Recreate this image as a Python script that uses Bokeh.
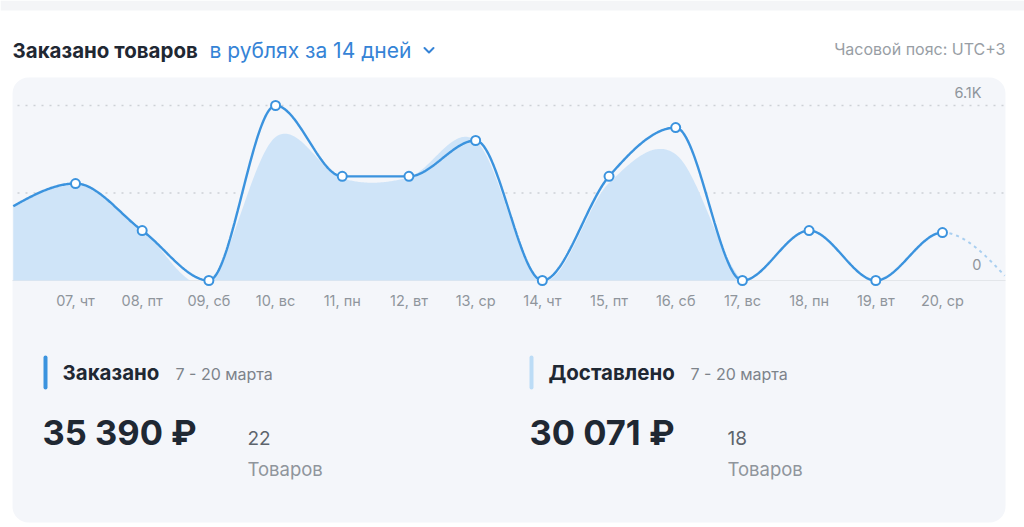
import numpy as np
from bokeh.plotting import figure
from bokeh.models import Range1d, BoxAnnotation
from bokeh.core.properties import value
from bokeh.embed import file_html
from bokeh.resources import INLINE

# ---------------- data ----------------
day_labels = ["07, чт", "08, пт", "09, сб", "10, вс", "11, пн", "12, вт", "13, ср",
              "14, чт", "15, пт", "16, сб", "17, вс", "18, пн", "19, вт", "20, ср"]
ordered = [3380, 1740, 0, 6100, 3630, 3630, 4880, 0, 3630, 5330, 0, 1740, 0, 1670]
delivered = [3380, 1740, 0, 5000, 3560, 3600, 4880, 0, 3400, 4400, 0, 0, 0, 0]
ordered_before = 2500     # 06 March, partly visible at the left edge
delivered_before = 2500
ordered_after = 0         # 21 March, dashed continuation
delivered_after = 0
grid_values = [3050, 6100]
tick_values = [6100, 0]
tick_labels = ["6.1K", "0"]

summary_titles = ["Заказано", "Доставлено"]
summary_period = ["7 - 20 марта", "7 - 20 марта"]
summary_sums = ["35 390 ₽", "30 071 ₽"]
summary_counts = ["22", "18"]

# ---------------- layout constants ----------------
W, H = 1024, 527
X0, DX = 75.0, 66.69          # pixel of first day, pixel per day
Y0, PPV = 280.0, 175.0 / 6100  # pixel of zero, pixel per unit
LEFT, RIGHT = 12, 1005

BLUE = "#3b93de"
AREA = "#cfe4f8"
DARK = "#1f2833"
GRAY = "#8f959c"
FONT = value("Inter")


def monotone_tangents(y):
    y = np.asarray(y, float)
    n = len(y)
    m = np.zeros(n)
    for i in range(1, n - 1):
        s0 = y[i] - y[i - 1]
        s1 = y[i + 1] - y[i]
        p = (s0 + s1) / 2
        m[i] = (np.sign(s0) + np.sign(s1)) * min(abs(s0), abs(s1), 0.5 * abs(p))
    m[0] = (3 * (y[1] - y[0]) - m[1]) / 2
    m[-1] = (3 * (y[-1] - y[-2]) - m[-2]) / 2
    return m


def cardinal_tangents(y):
    y = np.asarray(y, float)
    m = np.zeros(len(y))
    m[1:-1] = (y[2:] - y[:-2]) / 2
    m[0] = y[1] - y[0]
    m[-1] = y[-1] - y[-2]
    return m


def hermite(xk, yk, mk, n=60):
    xs, ys = [], []
    for i in range(len(xk) - 1):
        t = np.linspace(0, 1, n, endpoint=False)
        h00 = 2 * t**3 - 3 * t**2 + 1
        h10 = t**3 - 2 * t**2 + t
        h01 = -2 * t**3 + 3 * t**2
        h11 = t**3 - t**2
        xs.append(xk[i] + t * (xk[i + 1] - xk[i]))
        ys.append(h00 * yk[i] + h10 * mk[i] + h01 * yk[i + 1] + h11 * mk[i + 1])
    xs.append([xk[-1]])
    ys.append([yk[-1]])
    return np.concatenate(xs), np.concatenate(ys)


idx = list(range(len(day_labels)))
xk = [-1] + idx + [len(idx)]
yo = [ordered_before] + ordered + [ordered_after]
yd = [delivered_before] + delivered + [delivered_after]

lx, ly = hermite(xk, yo, monotone_tangents(yo))
ax, ay = hermite(xk, yd, cardinal_tangents(yd))

xmin_day = (LEFT - X0) / DX
xmax_day = (RIGHT - X0) / DX
last = idx[-1]

# ---------------- figure ----------------
p = figure(width=W, height=H, x_range=Range1d(0, W), y_range=Range1d(H, 0),
           output_backend="svg", toolbar_location=None, min_border=0,
           x_axis_location=None, y_axis_location=None, outline_line_color=None,
           background_fill_color="white", border_fill_color="white")
for g in p.grid:
    g.visible = False
p.extra_x_ranges = {"days": Range1d((0 - X0) / DX, (W - X0) / DX)}
p.extra_y_ranges = {"val": Range1d(-(H - Y0) / PPV, Y0 / PPV)}

# background pieces
p.add_layout(BoxAnnotation(left=0, right=W, top=0, bottom=10, fill_color="#f4f5f7",
                           fill_alpha=1, line_color=None, level="underlay"))
p.add_layout(BoxAnnotation(left=LEFT, right=RIGHT, top=77, bottom=522, fill_color="#f4f6fa",
                           fill_alpha=1, line_color=None, border_radius=16, level="underlay"))

# grid lines
p.segment(x0=17, x1=1003, y0=grid_values, y1=grid_values, y_range_name="val",
          line_color="#cdd1d6", line_width=1.6, line_dash="2 6")
p.segment(x0=LEFT, x1=RIGHT, y0=[0], y1=[0], y_range_name="val",
          line_color="#e3e6ea", line_width=1)

# delivered area
m = (ax >= xmin_day) & (ax <= last)
p.varea(x=ax[m], y1=0, y2=np.maximum(ay[m], 0), x_range_name="days", y_range_name="val",
        fill_color=AREA, fill_alpha=1)

# ordered line
m1 = (lx >= xmin_day) & (lx <= last)
p.line(lx[m1], ly[m1], x_range_name="days", y_range_name="val",
       line_color=BLUE, line_width=2.4)
m2 = (lx >= last) & (lx <= xmax_day)
p.line(lx[m2], ly[m2], x_range_name="days", y_range_name="val",
       line_color="#a9cff0", line_width=2, line_dash="3 4")
p.scatter(idx, ordered, x_range_name="days", y_range_name="val", marker="circle",
          size=9, fill_color="white", line_color=BLUE, line_width=2)

# value labels
p.text(x=[981, 981], y=tick_values, text=tick_labels, y_range_name="val",
       y_offset=[-5, -11], text_align="right", text_baseline="bottom",
       text_font=FONT, text_font_size="14.5px", text_color=GRAY)

# day labels
p.text(x=idx, y=[300] * len(idx), text=day_labels, x_range_name="days",
       text_align="center", text_baseline="middle", text_font=FONT,
       text_font_size="14.5px", text_color=GRAY)

# header
p.text(x=[12], y=[50], text=["Заказано товаров"], text_baseline="middle",
       text_font=FONT, text_font_size="20.5px", text_font_style="bold", text_color=DARK)
p.text(x=[209], y=[50], text=["в рублях за 14 дней"], text_baseline="middle",
       text_font=FONT, text_font_size="21px", text_color="#3583d6")
p.line([424, 428.5, 433], [47.5, 52, 47.5], line_color="#3583d6", line_width=2,
       line_join="round", line_cap="round")
p.text(x=[1005], y=[48], text=["Часовой пояс: UTC+3"], text_align="right",
       text_baseline="middle", text_font=FONT, text_font_size="16px", text_color="#989ea5")

# summary blocks
bar_x = [45, 531]
p.segment(x0=bar_x, x1=bar_x, y0=[357, 357], y1=[387, 387],
          line_color=[BLUE, "#bcdcf6"], line_width=4, line_cap="round")
p.text(x=[62, 548], y=[372, 372], text=summary_titles, text_baseline="middle",
       text_font=FONT, text_font_size="20.5px", text_font_style="bold", text_color=DARK)
p.text(x=[175, 690], y=[373, 373], text=summary_period, text_baseline="middle",
       text_font=FONT, text_font_size="16px", text_color="#7d838a")
p.text(x=[42, 529], y=[432, 432], text=summary_sums, text_baseline="middle",
       text_font=FONT, text_font_size="34.5px", text_font_style="bold", text_color=DARK)
p.text(x=[247, 727], y=[437, 437], text=summary_counts, text_baseline="middle",
       text_font=FONT, text_font_size="19px", text_color="#5d646c")
p.text(x=[247, 727], y=[468, 468], text=["Товаров", "Товаров"], text_baseline="middle",
       text_font=FONT, text_font_size="18.5px", text_color="#8f959c")

open("out.html", "w").write(file_html(p, INLINE))
